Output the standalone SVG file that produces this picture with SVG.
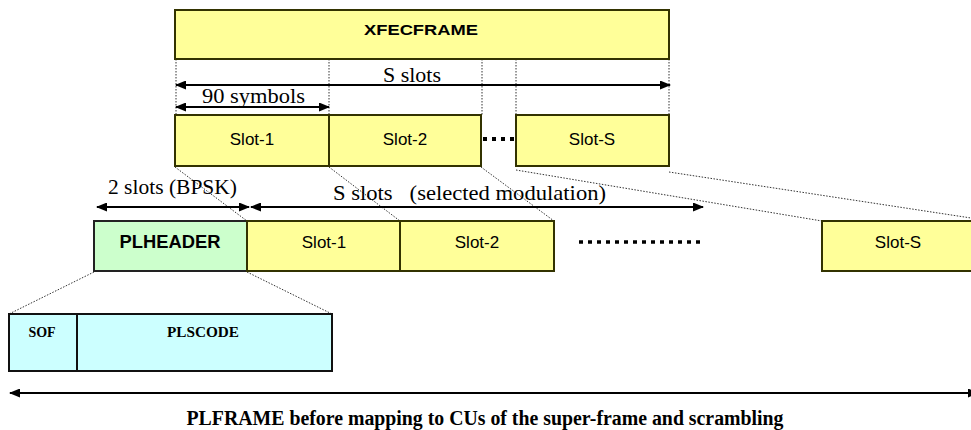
<svg xmlns="http://www.w3.org/2000/svg" width="971" height="430" viewBox="0 0 971 430">
<defs>
<marker id="ah" markerWidth="11" markerHeight="9" refX="10" refY="4.5" orient="auto-start-reverse" markerUnits="userSpaceOnUse">
<path d="M0,0 L11,4.5 L0,9 z" fill="#000"/>
</marker>
<style>
.y{fill:#FFFF99;stroke:#333300;stroke-width:2}
.g{fill:#CCFFCC;stroke:#222;stroke-width:2}
.c{fill:#CCFFFF;stroke:#111;stroke-width:2}
.dot{stroke:#333;stroke-width:1;stroke-dasharray:1.5 1.5;fill:none}
.arr{stroke:#000;stroke-width:2;fill:none;marker-start:url(#ah);marker-end:url(#ah)}
.big{stroke:#000;stroke-width:4;stroke-dasharray:4 5;fill:none}
.sans{font-family:"Liberation Sans",Arial,sans-serif;fill:#000}
.serif{font-family:"Liberation Serif","Times New Roman",serif;fill:#000}
</style>
</defs>
<rect width="971" height="430" fill="#fff"/>

<g id="connectors">
<line class="dot" x1="176" y1="59" x2="176" y2="115"/>
<line class="dot" x1="329" y1="59" x2="329" y2="115"/>
<line class="dot" x1="482" y1="59" x2="482" y2="115"/>
<line class="dot" x1="516" y1="59" x2="516" y2="115"/>
<line class="dot" x1="669" y1="59" x2="669" y2="115"/>
<line class="arr" x1="176" y1="85" x2="670" y2="85"/>
<line class="arr" x1="176" y1="107" x2="329" y2="107"/>
<line class="dot" x1="175" y1="167" x2="247" y2="221"/>
<line class="dot" x1="329" y1="167" x2="400" y2="221"/>
<line class="dot" x1="481" y1="167" x2="554" y2="221"/>
<line class="dot" x1="516" y1="170" x2="822" y2="221"/>
<line class="dot" x1="669" y1="172" x2="971" y2="218"/>
<line class="arr" x1="97" y1="207" x2="249" y2="207"/>
<line class="arr" x1="251" y1="207" x2="703" y2="207"/>
<line class="dot" x1="94" y1="272" x2="9" y2="314"/>
<line class="dot" x1="247" y1="272" x2="332" y2="314"/>
<line class="arr" x1="10" y1="393" x2="978" y2="393"/>
</g>

<g id="xfecframe">
<rect class="y" x="175" y="10" width="494" height="49"/>
<text class="sans" x="421" y="35" font-size="15.5" font-weight="bold" text-anchor="middle" textLength="114" lengthAdjust="spacingAndGlyphs">XFECFRAME</text>
</g>
<g id="label-s-slots-top"><text class="serif" x="383" y="82" font-size="22" textLength="58" lengthAdjust="spacingAndGlyphs">S slots</text></g>
<g id="label-90-symbols"><text class="serif" x="202" y="103" font-size="22" textLength="103" lengthAdjust="spacingAndGlyphs">90 symbols</text></g>

<g id="up-slot1"><rect class="y" x="175" y="115" width="154" height="51"/><text class="sans" x="252" y="145" font-size="17" text-anchor="middle">Slot-1</text></g>
<g id="up-slot2"><rect class="y" x="329" y="115" width="152" height="51"/><text class="sans" x="405" y="145" font-size="17" text-anchor="middle">Slot-2</text></g>
<g id="up-dots"><line class="big" x1="483" y1="139" x2="517" y2="139"/></g>
<g id="up-slotS"><rect class="y" x="516" y="115" width="153" height="51"/><text class="sans" x="592" y="145" font-size="17" text-anchor="middle">Slot-S</text></g>

<g id="label-2-slots"><text class="serif" x="108" y="194" font-size="22" textLength="129" lengthAdjust="spacingAndGlyphs">2 slots (BPSK)</text></g>
<g id="label-s-slots-mod"><text class="serif" x="333" y="200" font-size="22" xml:space="preserve" textLength="273" lengthAdjust="spacingAndGlyphs">S slots   (selected modulation)</text></g>

<g id="plheader"><rect class="g" x="94" y="221" width="153" height="50"/><text class="sans" x="170" y="248" font-size="17.5" font-weight="bold" text-anchor="middle" textLength="101" lengthAdjust="spacingAndGlyphs">PLHEADER</text></g>
<g id="low-slot1"><rect class="y" x="247" y="221" width="153" height="50"/><text class="sans" x="324" y="248" font-size="17" text-anchor="middle">Slot-1</text></g>
<g id="low-slot2"><rect class="y" x="400" y="221" width="154" height="50"/><text class="sans" x="477" y="248" font-size="17" text-anchor="middle">Slot-2</text></g>
<g id="low-dots"><line class="big" x1="579" y1="242" x2="704" y2="242" style="stroke-width:3.5"/></g>
<g id="low-slotS"><rect class="y" x="822" y="221" width="153" height="50"/><text class="sans" x="898" y="248" font-size="17" text-anchor="middle">Slot-S</text></g>

<g id="sof"><rect class="c" x="9" y="314" width="68" height="57"/><text class="serif" x="42" y="337" font-size="14" font-weight="bold" text-anchor="middle">SOF</text></g>
<g id="plscode"><rect class="c" x="77" y="314" width="255" height="57"/><text class="serif" x="203" y="337" font-size="14" font-weight="bold" text-anchor="middle" textLength="72" lengthAdjust="spacingAndGlyphs">PLSCODE</text></g>

<g id="caption"><text class="serif" x="485" y="425" font-size="20" font-weight="bold" text-anchor="middle" textLength="597" lengthAdjust="spacingAndGlyphs">PLFRAME before mapping to CUs of the super-frame and scrambling</text></g>
</svg>
